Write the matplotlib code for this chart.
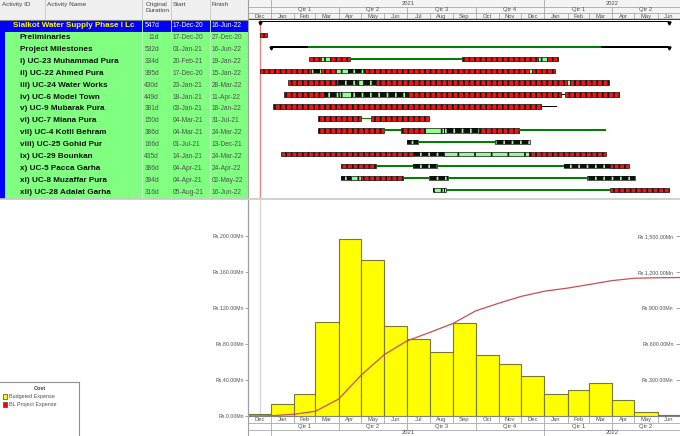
import matplotlib
matplotlib.use('Agg')
import matplotlib.pyplot as plt
import matplotlib.dates as mdates
import pandas as pd

plt.rcParams['font.family'] = ['Liberation Sans', 'DejaVu Sans']
plt.rcParams['hatch.linewidth'] = 1.2

W, H = 680, 436

# ---- table data ----
names = ['Sialkot Water Supply Phase I Lc', 'Preliminaries', 'Project Milestones',
         'i) UC-23 Muhammad Pura', 'ii) UC-22 Ahmed Pura', 'iii) UC-24 Water Works',
         'iv) UC-6 Model Town', 'v) UC-9 Mubarak Pura', 'vi) UC-7 Miana Pura',
         'vii) UC-4 Kotli Behram', 'viii) UC-25 Gohid Pur', 'ix) UC-29 Bounkan',
         'x) UC-5 Pacca Garha', 'xi) UC-8 Muzaffar Pura', 'xii) UC-28 Adalat Garha']
durations = ['547d', '11d', '532d', '334d', '395d', '430d', '449d', '381d', '150d',
             '386d', '166d', '435d', '386d', '394d', '316d']
starts = ['17-Dec-20', '17-Dec-20', '01-Jan-21', '20-Feb-21', '17-Dec-20', '23-Jan-21',
          '18-Jan-21', '03-Jan-21', '04-Mar-21', '04-Mar-21', '01-Jul-21', '14-Jan-21',
          '04-Apr-21', '04-Apr-21', '05-Aug-21']
finishes = ['16-Jun-22', '27-Dec-20', '16-Jun-22', '19-Jan-22', '15-Jan-22', '28-Mar-22',
            '11-Apr-22', '18-Jan-22', '31-Jul-21', '24-Mar-22', '13-Dec-21', '24-Mar-22',
            '24-Apr-22', '02-May-22', '16-Jun-22']

# bar pieces per row: R red/black, L light green, M black/green, G green line, k black line
segments = [
    [('2020-12-17', '2022-06-16', 'k')],
    [('2020-12-17', '2020-12-27', 'R')],
    [('2021-01-01', '2021-02-19', 'k'), ('2021-02-19', '2022-03-18', 'G'), ('2022-03-18', '2022-06-16', 'k')],
    [('2021-02-20', '2021-03-08', 'R'), ('2021-03-08', '2021-03-21', 'L'), ('2021-03-21', '2021-04-16', 'R'),
     ('2021-04-16', '2021-09-13', 'G'), ('2021-09-13', '2021-12-24', 'R'), ('2021-12-24', '2022-01-04', 'L'),
     ('2022-01-04', '2022-01-19', 'R')],
    [('2020-12-17', '2021-02-23', 'R'), ('2021-02-23', '2021-03-08', 'M'), ('2021-03-08', '2021-03-28', 'R'),
     ('2021-03-28', '2021-04-13', 'L'), ('2021-04-13', '2021-05-06', 'M'), ('2021-05-06', '2021-12-11', 'R'),
     ('2021-12-11', '2021-12-15', 'L'), ('2021-12-15', '2022-01-15', 'R')],
    [('2021-01-23', '2021-03-31', 'R'), ('2021-03-31', '2021-04-26', 'M'), ('2021-04-26', '2021-05-03', 'L'),
     ('2021-05-03', '2021-05-21', 'M'), ('2021-05-21', '2022-01-31', 'R'), ('2022-01-31', '2022-02-04', 'L'),
     ('2022-02-04', '2022-03-28', 'R')],
    [('2021-01-18', '2021-03-13', 'R'), ('2021-03-13', '2021-04-02', 'M'), ('2021-04-02', '2021-04-17', 'L'),
     ('2021-04-17', '2021-07-02', 'M'), ('2021-07-02', '2022-01-23', 'R'), ('2022-01-23', '2022-01-29', 'k'),
     ('2022-01-29', '2022-04-11', 'R')],
    [('2021-01-03', '2021-12-27', 'R'), ('2021-12-27', '2022-01-18', 'k')],
    [('2021-03-04', '2021-05-01', 'R'), ('2021-05-01', '2021-05-14', 'G'), ('2021-05-14', '2021-07-31', 'R')],
    [('2021-03-04', '2021-06-01', 'R'), ('2021-06-01', '2021-06-23', 'G'), ('2021-06-23', '2021-07-26', 'R'),
     ('2021-07-26', '2021-08-20', 'L'), ('2021-08-20', '2021-10-05', 'M'), ('2021-10-05', '2021-11-28', 'R'),
     ('2021-11-28', '2022-03-24', 'G')],
    [('2021-07-01', '2021-07-16', 'M'), ('2021-07-16', '2021-10-27', 'G'), ('2021-10-27', '2021-12-13', 'M')],
    [('2021-01-14', '2021-07-09', 'R'), ('2021-07-09', '2021-08-20', 'M'), ('2021-08-20', '2021-12-11', 'L'),
     ('2021-12-11', '2022-03-24', 'R')],
    [('2021-04-04', '2021-05-21', 'R'), ('2021-05-21', '2021-07-10', 'G'), ('2021-07-10', '2021-08-11', 'M'),
     ('2021-08-11', '2022-01-27', 'G'), ('2022-01-27', '2022-03-30', 'M'), ('2022-03-30', '2022-04-24', 'R')],
    [('2021-04-04', '2021-04-17', 'M'), ('2021-04-17', '2021-05-01', 'L'), ('2021-05-01', '2021-06-26', 'R'),
     ('2021-06-26', '2021-07-31', 'G'), ('2021-07-31', '2021-08-25', 'M'), ('2021-08-25', '2022-02-27', 'G'),
     ('2022-02-27', '2022-05-02', 'M')],
    [('2021-08-05', '2021-08-07', 'M'), ('2021-08-07', '2021-08-20', 'L'), ('2021-08-20', '2021-08-22', 'M'),
     ('2021-08-22', '2022-03-30', 'G'), ('2022-03-30', '2022-06-16', 'R')],
]

# ---- cost histogram data (Rs. Mn) ----
budget_months = pd.date_range('2020-12-01', periods=19, freq='MS')
budgeted = [2.2, 12.9, 24.0, 105.0, 197.0, 173.0, 99.6, 85.6, 70.8, 103.3,
            67.9, 57.6, 44.3, 24.7, 28.8, 36.9, 17.3, 4.4, 0.7]
cum_dates = pd.date_range('2020-12-01', periods=20, freq='MS')
bl_cumulative = [0, 2, 15, 39, 141, 340, 511, 625, 697, 772,
                 876, 940, 997, 1040, 1066, 1095, 1128, 1148, 1152, 1154]

data_date = '2020-12-17'
t0, t1 = mdates.datestr2num('2020-12-01'), mdates.datestr2num('2022-07-01')

fig = plt.figure(figsize=(W / 100, H / 100), dpi=100)
fig.patch.set_facecolor('white')


def px_axes(x0, y0, x1, y1):
    a = fig.add_axes([x0 / W, 1 - y1 / H, (x1 - x0) / W, (y1 - y0) / H])
    return a


grid_c = '#a8a8a8'
txt_c = '#505050'
row_h = 11.9
top0 = 20

# ---- table ----
tab = px_axes(0, 0, 248, 200)
tab.set_xlim(0, 248)
tab.set_ylim(200, 0)
tab.axis('off')
tab.add_patch(plt.Rectangle((0, 0), 248, 20, fc='#f0f0f0', ec='none'))
for xc in [45, 142, 171, 210]:
    tab.plot([xc, xc], [0, 20], color='#c8c8c8', lw=0.6)
tab.plot([0, 248], [19.6, 19.6], color='#808080', lw=0.8)
hdr_kw = dict(fontsize=4.6, color='#404040', va='top')
tab.text(2, 2, 'Activity ID', **hdr_kw)
tab.text(47, 2, 'Activity Name', **hdr_kw)
tab.text(157, 2, 'Original\nDuration', ha='center', linespacing=1.15, **hdr_kw)
tab.text(173, 2, 'Start', **hdr_kw)
tab.text(212, 2, 'Finish', **hdr_kw)

n = len(names)
tab.add_patch(plt.Rectangle((0, top0 + row_h), 248, row_h * (n - 1), fc='#80ff80', ec='none'))
tab.add_patch(plt.Rectangle((0, top0), 248, row_h, fc='#0000ff', ec='none'))
tab.add_patch(plt.Rectangle((0, top0 + row_h), 4.7, row_h * (n - 1), fc='#0000ff', ec='none'))
for xc in [142, 171, 210]:
    tab.plot([xc, xc], [top0, top0 + row_h * n], color='#c0ffc0', lw=0.6)
for i in range(n):
    yc = top0 + row_h * i + 5.6
    if i == 0:
        tab.text(13, yc, names[i], fontsize=5.8, weight='bold', color='#ffff00', va='center')
        num_c = 'white'
    else:
        tab.text(20, yc, names[i], fontsize=5.9, weight='bold', color='#101010', va='center')
        num_c = txt_c
    tab.text(159, yc, durations[i], fontsize=4.8, color=num_c, va='center', ha='right')
    tab.text(173, yc, starts[i], fontsize=4.8, color=num_c, va='center')
    tab.text(212, yc, finishes[i], fontsize=4.8, color=num_c, va='center')

# ---- gantt header ----
months_all = pd.date_range('2020-12-01', '2022-06-01', freq='MS')
qtrs = pd.date_range('2021-01-01', '2022-07-01', freq='QS')
years = [pd.Timestamp('2021-01-01'), pd.Timestamp('2022-01-01'), pd.Timestamp('2022-07-01')]


def timescale(a, rows):
    # rows: list of (kind, ytop, ybot)
    a.set_xlim(t0, t1)
    a.set_ylim(20, 0)
    a.axis('off')
    for kind, ya, yb in rows:
        ym = (ya + yb) / 2
        if kind == 'm':
            for m in months_all:
                x = mdates.date2num(m)
                a.plot([x, x], [ya, yb], color=grid_c, lw=0.6)
                xm = x + m.days_in_month / 2
                a.text(xm, ym, m.strftime('%b'), fontsize=4.2, color=txt_c, ha='center', va='center')
        elif kind == 'q':
            for k in range(len(qtrs) - 1):
                xa, xb = mdates.date2num(qtrs[k]), mdates.date2num(qtrs[k + 1])
                a.plot([xa, xa], [ya, yb], color=grid_c, lw=0.6)
                a.text((xa + xb) / 2, ym, 'Qtr %d' % qtrs[k].quarter, fontsize=4.2,
                       color=txt_c, ha='center', va='center')
        else:
            for k in range(len(years) - 1):
                xa, xb = mdates.date2num(years[k]), mdates.date2num(years[k + 1])
                a.plot([xa, xa], [ya, yb], color=grid_c, lw=0.6)
                a.text((xa + xb) / 2, ym, str(years[k].year), fontsize=4.2,
                       color=txt_c, ha='center', va='center')
        a.plot([t0, t1], [yb, yb], color=grid_c, lw=0.6)


th = px_axes(248, 0, 680, 20)
th.add_patch(plt.Rectangle((t0, 0), t1 - t0, 20, fc='#f4f4f4', ec='none'))
timescale(th, [('y', 0, 6.7), ('q', 6.7, 12.9), ('m', 12.9, 19.4)])
th.plot([t0, t1], [19.5, 19.5], color='#404040', lw=1.0)

# ---- gantt bars ----
gt = px_axes(248, 20, 680, 198.5)
gt.set_xlim(t0, t1)
gt.set_ylim(198.5, 20)
gt.axis('off')
gt.axvline(mdates.datestr2num(data_date), color='#e08888', lw=1.0, zorder=1)
for i, segs in enumerate(segments):
    yc = top0 + row_h * i + (1.6 if i == 0 else 3.2)
    for s, e, kind in segs:
        x0 = mdates.datestr2num(s)
        w = mdates.datestr2num(e) - x0
        if kind == 'k':
            gt.barh(yc, w, left=x0, height=1.7, color='black', zorder=3)
        elif kind == 'G':
            gt.barh(yc, w, left=x0, height=1.8, color='#008000', zorder=3)
        elif kind == 'R':
            gt.barh(yc, w, left=x0, height=4.4, color='#ff1010', edgecolor='#101010',
                    lw=0.5, hatch='|||', zorder=3)
        elif kind == 'L':
            gt.barh(yc, w, left=x0, height=4.4, color='#90ff90', edgecolor='#101010',
                    lw=0.5, hatch='|', zorder=3)
        else:
            gt.barh(yc, w, left=x0, height=4.4, color='#101010', edgecolor='#90ff90',
                    lw=0, hatch='||', zorder=3)
            gt.barh(yc, w, left=x0, height=4.4, color='none', edgecolor='#101010',
                    lw=0.5, zorder=3)
    if i in (0, 2):
        for s in (segs[0][0], segs[-1][1]):
            gt.plot(mdates.datestr2num(s), yc + 1.2, marker='v', ms=2.2, color='black', zorder=4)

# ---- cost histogram ----
ax = px_axes(248, 200, 680, 416)
ax.set_xlim(t0, t1)
ax.bar(mdates.date2num(budget_months), budgeted, width=budget_months.days_in_month,
       align='edge', color='#ffff00', edgecolor='#77773c', linewidth=0.8, zorder=2)
ax.axvline(mdates.datestr2num(data_date), color='#d8d8d8', lw=1.0, zorder=1)
ax.set_ylim(0, 240)
ax.set_yticks(range(0, 201, 40))
ax.set_yticklabels(['Rs.%.2fMn' % v for v in range(0, 201, 40)])
ax.set_xticks([])
ax.tick_params(axis='y', length=2, width=0.5, color='#808080', labelsize=3.8,
               labelcolor=txt_c, pad=1)
for sp in ['top', 'right', 'bottom']:
    ax.spines[sp].set_visible(False)
ax.spines['left'].set_color('#808080')
ax.spines['left'].set_linewidth(0.8)

ax2 = ax.twinx()
ax2.plot(mdates.date2num(cum_dates), bl_cumulative, color='#c85050', lw=0.9, zorder=3)
ax2.set_ylim(0, 1800)
ax2.set_yticks(range(300, 1501, 300))
ax2.set_yticklabels(['Rs.{:,.2f}Mn'.format(v) for v in range(300, 1501, 300)])
ax2.tick_params(axis='y', direction='in', length=3, width=0.5, color='#808080',
                labelsize=3.8, labelcolor=txt_c, pad=-4.5)
plt.setp(ax2.get_yticklabels(), ha='right')
for sp in ['top', 'right', 'bottom', 'left']:
    ax2.spines[sp].set_visible(False)

bt = px_axes(248, 416, 680, 436)
timescale(bt, [('m', 0, 6.5), ('q', 6.5, 13.5), ('y', 13.5, 20)])
bt.plot([t0, t1], [0.3, 0.3], color='#808080', lw=0.8)

# ---- legend ----
lg = px_axes(0, 382, 79, 436)
lg.set_xlim(0, 79)
lg.set_ylim(54, 0)
lg.set_xticks([])
lg.set_yticks([])
for sp in ['bottom', 'left']:
    lg.spines[sp].set_visible(False)
for sp in ['top', 'right']:
    lg.spines[sp].set_color('#909090')
    lg.spines[sp].set_linewidth(0.8)
lg.text(39.5, 6.5, 'Cost', fontsize=4, weight='bold', color='#404040', ha='center', va='center')
legend_items = [('Budgeted Expense', '#ffff00'), ('BL Project Expense', '#ff0000')]
for k, (lab, col) in enumerate(legend_items):
    yy = 14.5 + 8 * k
    lg.add_patch(plt.Rectangle((2.5, yy - 2.2), 4.4, 4.4, fc=col, ec='#404040', lw=0.5))
    lg.text(9, yy, lab, fontsize=3.9, color=txt_c, va='center')

# ---- separators ----
ov = fig.add_axes([0, 0, 1, 1])
ov.set_xlim(0, W)
ov.set_ylim(H, 0)
ov.axis('off')
ov.patch.set_visible(False)
ov.plot([248, 248], [0, 436], color='#a0a0a0', lw=0.8)
ov.plot([0, 680], [199.2, 199.2], color='#c8c8c8', lw=1.2)

fig.savefig('out.png', dpi=100, facecolor='white')
